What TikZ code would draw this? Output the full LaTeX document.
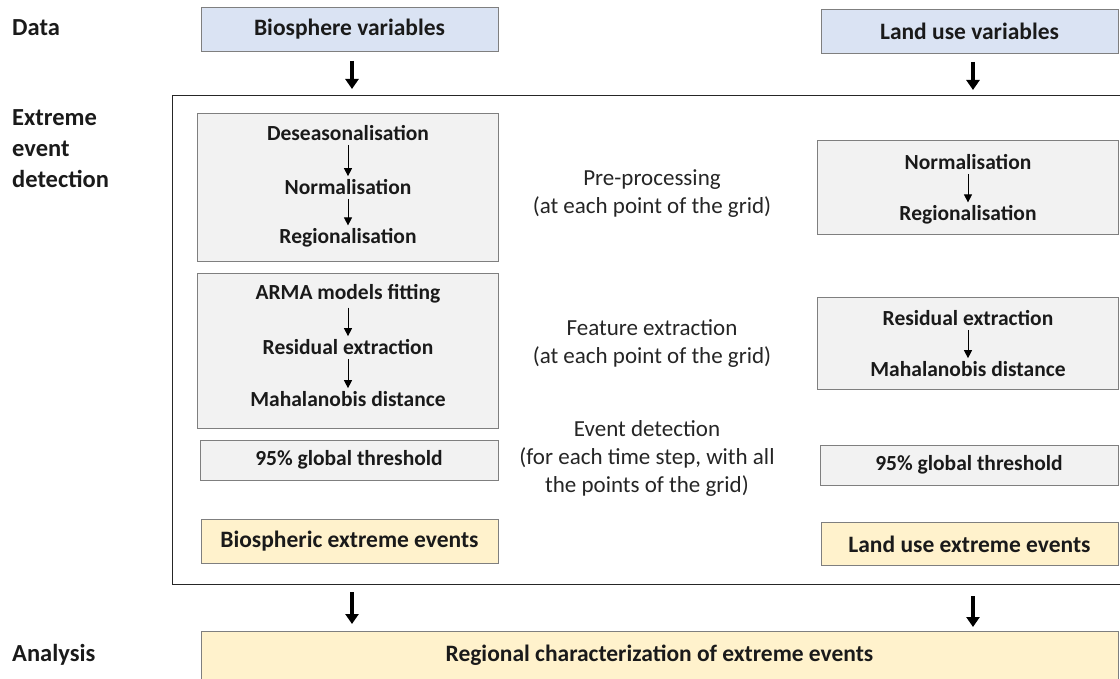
\documentclass[tikz,border=0pt]{standalone}
\usepackage{fontspec}
\setmainfont{Carlito}
\usetikzlibrary{arrows.meta}
\definecolor{blueF}{HTML}{DAE3F3}
\definecolor{grayF}{HTML}{F2F2F2}
\definecolor{yelF}{HTML}{FFF2CC}
\definecolor{edgeC}{HTML}{7F7F7F}
\definecolor{txtC}{HTML}{1A1A1A}
\tikzset{
  box/.style={draw=edgeC, line width=0.9pt, inner sep=0pt},
  bluebox/.style={box, fill=blueF},
  graybox/.style={box, fill=grayF},
  yelbox/.style={box, fill=yelF},
  head/.style={font=\bfseries\fontsize{23.5}{28}\selectfont, text=txtC},
  inner/.style={font=\bfseries\fontsize{21.5}{26}\selectfont, text=txtC, inner sep=0pt},
  lbl/.style={font=\bfseries\fontsize{24.5}{31}\selectfont, text=txtC, align=left, anchor=west, inner sep=0pt},
  mid/.style={font=\fontsize{23}{28}\selectfont, text=txtC!95, align=center, inner sep=0pt},
  thinarr/.style={line width=0.8pt, -{Triangle[length=8pt,width=8pt]}, shorten <=4pt, shorten >=3pt},
  bigarr/.style={line width=3.5pt, -{Triangle[length=10pt,width=13pt]}},
}
\begin{document}
\begin{tikzpicture}[x=1pt,y=-1pt]
\useasboundingbox (0,0) rectangle (1120,679);
% section labels
\node[lbl] (ldata) at (12,28) {Data};
\node[lbl, anchor=north west] (lext) at (12,109) {Extreme\\event\\detection};
\node[lbl] (lana) at (12,655) {Analysis};
% big frame
\node[draw=black!85, line width=1.3pt, minimum width=960, minimum height=489, inner sep=0pt, anchor=north west] (frame) at (172,95) {};
% data boxes
\node[bluebox, minimum width=297, minimum height=44, head] (bio) at (349.5,29) {Biosphere variables};
\node[bluebox, minimum width=297, minimum height=44, head] (land) at (969.5,31) {Land use variables};
% left pre-processing box
\node[graybox, minimum width=301, minimum height=148] (lpre) at (347.5,187) {};
\node[inner] (d1) at (348,133) {Deseasonalisation};
\node[inner] (d2) at (348,187) {Normalisation};
\node[inner] (d3) at (348,238) {Regionalisation};
% right pre-processing box
\node[graybox, minimum width=301, minimum height=94] (rpre) at (967.5,187) {};
\node[inner] (r1) at (968,162) {Normalisation};
\node[inner] (r2) at (968,215) {Regionalisation};
% left feature box
\node[graybox, minimum width=301, minimum height=155] (lfeat) at (347.5,350.5) {};
\node[inner] (f1) at (348,294) {ARMA models fitting};
\node[inner] (f2) at (348,347) {Residual extraction};
\node[inner] (f3) at (348,399) {Mahalanobis distance};
% right feature box
\node[graybox, minimum width=301, minimum height=92] (rfeat) at (967.5,343) {};
\node[inner] (g1) at (968,318) {Residual extraction};
\node[inner] (g2) at (968,369) {Mahalanobis distance};
% thresholds
\node[graybox, minimum width=298, minimum height=40, inner] (lthr) at (349,460) {95\% global threshold};
\node[graybox, minimum width=298, minimum height=40, inner] (rthr) at (969,465) {95\% global threshold};
% events
\node[yelbox, minimum width=297, minimum height=44, head] (lev) at (349.5,541) {Biospheric extreme events};
\node[yelbox, minimum width=297, minimum height=43, head] (rev) at (969.5,544) {Land use extreme events};
% analysis
\node[yelbox, minimum width=917, minimum height=60, anchor=north west] (reg) at (201,631) {};
\node[head] (regt) at (659.5,655) {Regional characterization of extreme events};
% middle texts
\node[mid] (m1) at (652,194) {Pre-processing\\(at each point of the grid)};
\node[mid] (m2) at (652,344) {Feature extraction\\(at each point of the grid)};
\node[mid] (m3) at (647,458) {Event detection\\(for each time step, with all\\the points of the grid)};
% inner arrows
\draw[thinarr] (d1) -- (d2);
\draw[thinarr] (d2) -- (d3);
\draw[thinarr] (r1) -- (r2);
\draw[thinarr] (f1) -- (f2);
\draw[thinarr] (f2) -- (f3);
\draw[thinarr] (g1) -- (g2);
% thick arrows
\coordinate (a1s) at (352,61);
\coordinate (a1e) at (352,89);
\coordinate (a2s) at (973,62);
\coordinate (a2e) at (973,90);
\coordinate (a3s) at (352,592);
\coordinate (a3e) at (352,624);
\coordinate (a4s) at (973,596);
\coordinate (a4e) at (973,627);
\draw[bigarr] (a1s) -- (a1e);
\draw[bigarr] (a2s) -- (a2e);
\draw[bigarr] (a3s) -- (a3e);
\draw[bigarr] (a4s) -- (a4e);
\end{tikzpicture}
\end{document}
